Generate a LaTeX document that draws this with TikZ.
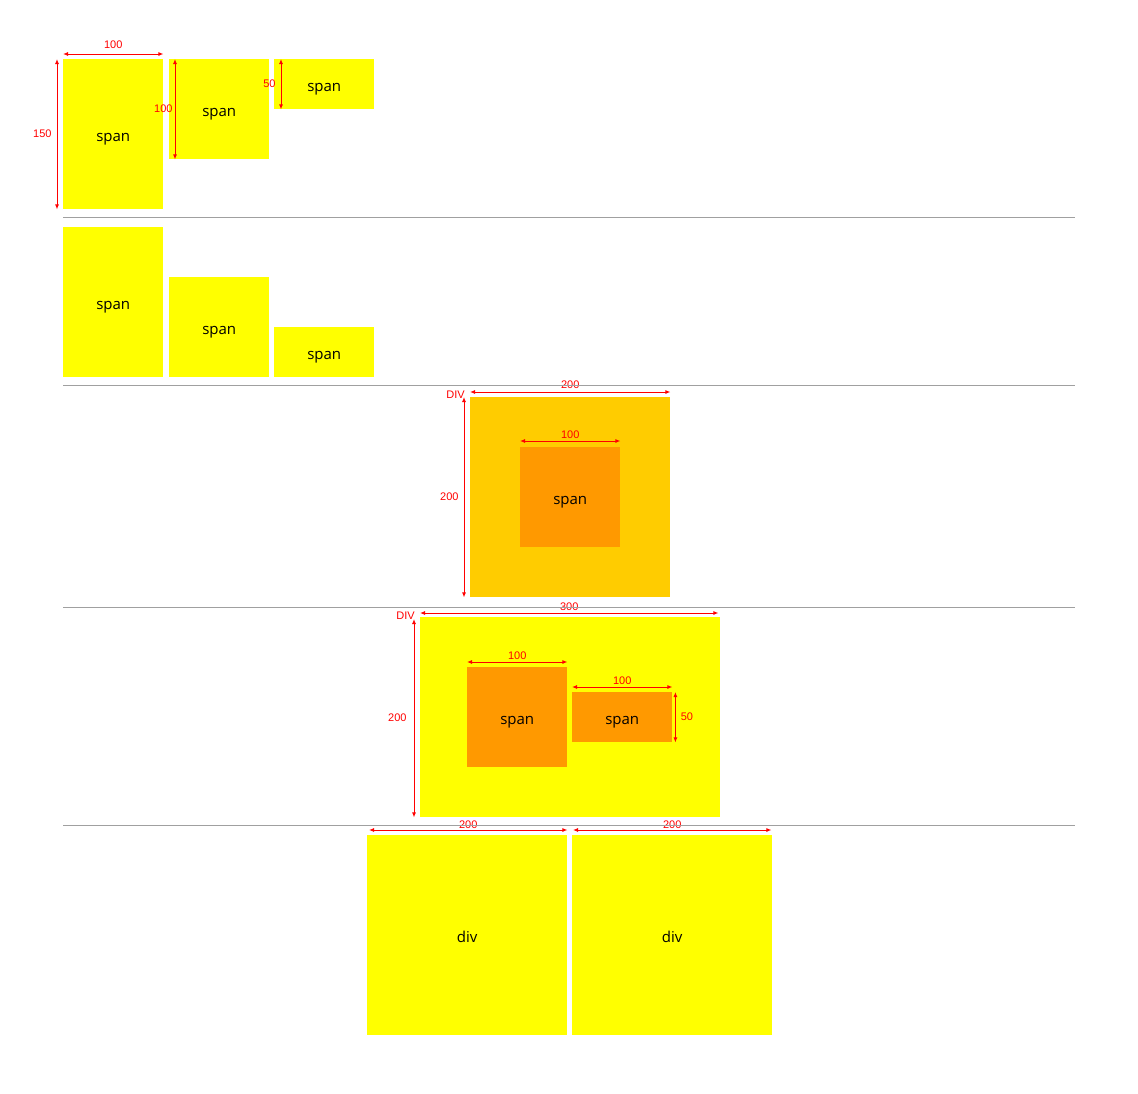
\documentclass[tikz,border=0pt]{standalone}
\usepackage{fontspec}
\setmainfont{Open Sans}
\newfontfamily\dimfont{Liberation Sans}
\usetikzlibrary{arrows.meta}

\definecolor{boxyellow}{HTML}{FFFF00}
\definecolor{divorange}{HTML}{FFCC00}
\definecolor{spanorange}{HTML}{FF9900}
\definecolor{dimred}{HTML}{FF0000}
\definecolor{rulegray}{HTML}{A0A0A0}

\begin{document}
\begin{tikzpicture}[x=1pt, y=-1pt,
      box/.style={fill=#1, inner sep=0pt, anchor=north west,
        text height=14pt, text depth=0pt,
        font=\fontsize{15}{17}\selectfont},
      box/.default=boxyellow,
      dim/.style={draw=dimred, line width=0.9pt,
        {Latex[length=5pt,width=4pt]}-{Latex[length=5pt,width=4pt]}},
      dimtext/.style={text=dimred, inner sep=1pt, font=\dimfont\fontsize{11}{12}\selectfont},
      rule/.style={draw=rulegray, line width=1pt}]
      \useasboundingbox (0,0) rectangle (1138,1093);

      % first row: heights 150, 100, 50, aligned at the top
      \node[box, minimum width=100pt, minimum height=150pt] (r1a) at (63,59) {span};
      \node[box, minimum width=100pt, minimum height=100pt] (r1b) at (169,59) {span};
      \node[box, minimum width=100pt, minimum height=50pt] (r1c) at (274,59) {span};
      \draw[dim] ([yshift=5pt]r1a.north west) -- node[dimtext, above=4pt]{100} ([yshift=5pt]r1a.north east);
      \draw[dim] ([xshift=-6pt]r1a.north west) -- node[dimtext, left=4pt]{150} ([xshift=-6pt]r1a.south west);
      \draw[dim] ([xshift=6pt]r1b.north west) -- node[dimtext, left=1pt]{100} ([xshift=6pt]r1b.south west);
      \draw[dim] ([xshift=7pt]r1c.north west) -- node[dimtext, left=4pt]{50} ([xshift=7pt]r1c.south west);

      % second row: aligned at the bottom
      \node[box, minimum width=100pt, minimum height=150pt] (r2a) at (63,227) {span};
      \node[box, minimum width=100pt, minimum height=100pt] (r2b) at (169,277) {span};
      \node[box, minimum width=100pt, minimum height=50pt] (r2c) at (274,327) {span};

      % third row: span inside a div
      \node[box=divorange, minimum width=200pt, minimum height=200pt] (r3div) at (470,397) {};
      \node[box=spanorange, minimum width=100pt, minimum height=100pt] (r3span) at (520,447) {span};
      \node[dimtext, anchor=east] (r3tag) at ([xshift=-4pt,yshift=2pt]r3div.north west) {DIV};
      \draw[dim] ([yshift=5pt]r3div.north west) -- node[dimtext, above=2pt]{200} ([yshift=5pt]r3div.north east);
      \draw[dim] ([xshift=-6pt]r3div.north west) -- node[dimtext, left=4pt]{200} ([xshift=-6pt]r3div.south west);
      \draw[dim] ([yshift=6pt]r3span.north west) -- node[dimtext, above=1pt]{100} ([yshift=6pt]r3span.north east);

      % fourth row: two spans inside a div
      \node[box, minimum width=300pt, minimum height=200pt] (r4div) at (420,617) {};
      \node[box=spanorange, minimum width=100pt, minimum height=100pt] (r4a) at (467,667) {span};
      \node[box=spanorange, minimum width=100pt, minimum height=50pt] (r4b) at (572,692) {span};
      \node[dimtext, anchor=east] (r4tag) at ([xshift=-4pt,yshift=1pt]r4div.north west) {DIV};
      \draw[dim] ([yshift=4pt]r4div.north west) -- node[dimtext, above=1pt]{300} ([xshift=-2pt,yshift=4pt]r4div.north east);
      \draw[dim] ([xshift=-6pt,yshift=-2pt]r4div.north west) -- node[dimtext, left=6pt]{200} ([xshift=-6pt]r4div.south west);
      \draw[dim] ([yshift=5pt]r4a.north west) -- node[dimtext, above=1pt]{100} ([yshift=5pt]r4a.north east);
      \draw[dim] ([yshift=5pt]r4b.north west) -- node[dimtext, above=1pt]{100} ([yshift=5pt]r4b.north east);
      \draw[dim] ([xshift=3pt]r4b.north east) -- node[dimtext, right=4pt]{50} ([xshift=3pt]r4b.south east);

      % fifth row: two divs side by side
      \node[box, minimum width=200pt, minimum height=200pt] (r5a) at (367,835) {div};
      \node[box, minimum width=200pt, minimum height=200pt] (r5b) at (572,835) {div};
      \draw[dim] ([xshift=2pt,yshift=5pt]r5a.north west) -- node[dimtext, above=0pt]{200} ([yshift=5pt]r5a.north east);
      \draw[dim] ([xshift=1pt,yshift=5pt]r5b.north west) -- node[dimtext, above=0pt]{200} ([xshift=-1pt,yshift=5pt]r5b.north east);

      % separators
      \foreach \y in {217,385,607,825}
        \draw[rule] (63,\y) -- (1075,\y);
    \end{tikzpicture}
\end{document}
